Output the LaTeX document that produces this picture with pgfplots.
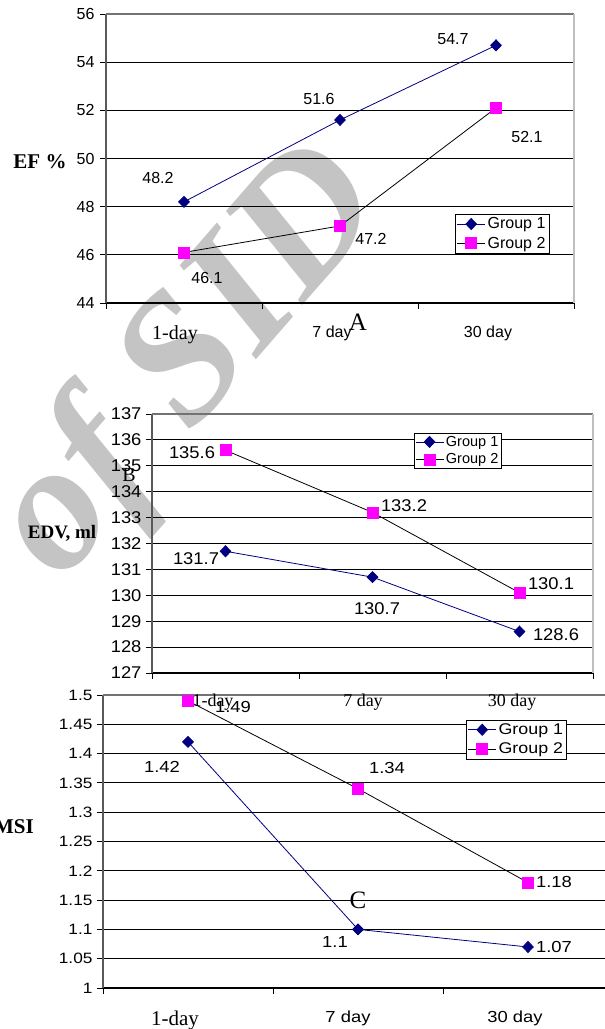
\documentclass[border=0pt]{standalone}
\usepackage{fontspec}
\setmainfont{Liberation Sans}
\newfontfamily\tnr{Liberation Serif}
\newfontfamily\sansB[FakeStretch=1.08]{Liberation Sans}
\newfontfamily\sansC[FakeStretch=1.15]{Liberation Sans}
\usepackage{pgfplots}
\pgfplotsset{compat=1.18}
\definecolor{navy}{RGB}{0,0,128}
\definecolor{mag}{RGB}{255,0,255}
\definecolor{wm}{RGB}{196,196,196}
\pgfplotsset{
  panel/.style={
    scale only axis, anchor=south west,
    xmin=-0.5, xmax=2.5,
    xtick={-0.5,0.5,1.5,2.5}, xticklabels={},
    tick align=outside, major tick length=6pt,
    axis x line*=bottom, axis y line*=left,
    x axis line style={-, black, line width=1pt},
    y axis line style={-, black!65, line width=1.3pt},
    ymajorgrids, grid style={black, line width=0.8pt},
    tick style={black, line width=0.8pt},
    clip=false,
    /pgf/number format/assume math mode=true,
    legend cell align=left,
    legend image code/.code={\draw[mark repeat=2,mark phase=2,##1] plot coordinates {(0pt,0pt) (14pt,0pt) (28pt,0pt)};},
  },
  g1/.style={navy, line width=0.8pt, mark=diamond*, mark size=5.5pt, mark options={fill=navy, draw=navy, xscale=1.3}},
  g2/.style={black, line width=0.8pt, mark=square*, mark size=5.5pt, mark options={fill=mag, draw=mag}},
}
\newcommand{\lab}[4][]{\node[#1] at (#2pt,1029pt-#3pt) {#4};}
\begin{document}
\begin{tikzpicture}
\path[use as bounding box] (0pt,0pt) rectangle (605pt,1029pt);
% watermark
\begin{scope}
\clip (0pt,0pt) rectangle (605pt,1029pt);
\node[rotate=49, text=wm, font=\fontsize{182}{182}\selectfont\tnr\itshape\bfseries] at (192pt,664pt) {of SID};
\end{scope}

% ---------- Panel A ----------
\begin{axis}[panel, at={(106pt,726pt)}, width=468pt, height=289pt,
  ymin=44, ymax=56, ytick={44,46,...,56},
  yticklabel style={font=\fontsize{16}{16}\selectfont, xshift=-2pt},
  legend style={at={(rel axis cs:0.746,0.308)}, anchor=north west, draw=black, fill=white,
    font=\fontsize{16}{16}\selectfont, inner sep=1.5pt, row sep=2.5pt}]
\addplot[g1] coordinates {(0,48.2) (1,51.6) (2,54.7)};
\addplot[g2] coordinates {(0,46.1) (1,47.2) (2,52.1)};
\legend{Group 1, Group 2}
\draw[black!55, line width=1.2pt] (rel axis cs:0,1) -- (rel axis cs:1,1);
\draw[black!25, line width=1.5pt] (rel axis cs:1,1) -- (rel axis cs:1,0);
\end{axis}
\begin{scope}[font=\fontsize{16}{16}\selectfont]
\lab{158}{178}{48.2}
\lab{319}{99}{51.6}
\lab{453}{39}{54.7}
\lab{207}{278}{46.1}
\lab{371}{239}{47.2}
\lab{527}{137}{52.1}
\lab{332}{333}{7 day}
\lab{488}{333}{30 day}
\end{scope}
\lab[font=\fontsize{20}{20}\selectfont\tnr]{175}{335}{1-day}
\lab[font=\fontsize{25}{25}\selectfont\tnr]{358}{322}{A}
\lab[font=\fontsize{21}{21}\selectfont\tnr\bfseries]{40}{162}{EF \%}

% ---------- Panel B ----------
\begin{axis}[panel, at={(152pt,356pt)}, width=441pt, height=259pt,
  ymin=127, ymax=137, ytick={127,128,...,137},
  yticklabel style={font=\fontsize{17}{17}\selectfont\sansB, xshift=-1pt},
  legend style={at={(rel axis cs:0.594,0.927)}, anchor=north west, draw=black, fill=white,
    font=\fontsize{14.5}{14.5}\selectfont, inner sep=1pt, row sep=2pt}]
\addplot[g1] coordinates {(0,131.7) (1,130.7) (2,128.6)};
\addplot[g2] coordinates {(0,135.6) (1,133.2) (2,130.1)};
\legend{Group 1, Group 2}
\draw[black!55, line width=1.2pt] (rel axis cs:0,1) -- (rel axis cs:1,1);
\draw[black!25, line width=1.5pt] (rel axis cs:1,1) -- (rel axis cs:1,0);
\end{axis}
\begin{scope}[font=\fontsize{17}{17}\selectfont\sansB]
\lab{192}{453}{135.6}
\lab{404}{506}{133.2}
\lab{551}{584}{130.1}
\lab{196}{559}{131.7}
\lab{377}{609}{130.7}
\lab{556}{635}{128.6}
\end{scope}
\lab[font=\fontsize{20}{20}\selectfont\tnr]{129}{475}{B}
\lab[font=\fontsize{19}{19}\selectfont\tnr\bfseries]{62}{533}{EDV, ml}

% ---------- Panel C ----------
\begin{scope}
\clip (0pt,0pt) rectangle (605pt,1029pt);
\begin{axis}[panel, at={(103pt,41pt)}, width=510pt, height=293pt,
  ymin=1, ymax=1.5, ytick={1,1.05,1.1,1.15,1.2,1.25,1.3,1.35,1.4,1.45,1.5},
  yticklabel style={font=\fontsize{15}{15}\selectfont\sansC, xshift=-1pt},
  legend style={at={(rel axis cs:0.712,0.915)}, anchor=north west, draw=black, fill=white,
    font=\fontsize{15.5}{15.5}\selectfont\sansC, inner sep=1.5pt, row sep=3pt}]
\addplot[g1] coordinates {(0,1.42) (1,1.1) (2,1.07)};
\addplot[g2] coordinates {(0,1.49) (1,1.34) (2,1.18)};
\legend{Group 1, Group 2}
\draw[black!55, line width=1.2pt] (rel axis cs:0,1) -- (rel axis cs:1,1);
\end{axis}
\end{scope}
\begin{scope}[font=\fontsize{16}{16}\selectfont\sansC]
\lab{233}{707}{1.49}
\lab{162}{767}{1.42}
\lab{387}{768}{1.34}
\lab{554}{882}{1.18}
\lab{335}{942}{1.1}
\lab{554}{947}{1.07}
\lab{348}{1018}{7 day}
\lab{515}{1018}{30 day}
\end{scope}
\begin{scope}[font=\fontsize{18}{18}\selectfont\tnr]
\lab{213}{702}{1-day}
\lab{363}{702}{7 day}
\lab{512}{702}{30 day}
\end{scope}
\lab[font=\fontsize{21}{21}\selectfont\tnr]{175}{1020}{1-day}
\lab[font=\fontsize{25}{25}\selectfont\tnr]{358}{900}{C}
\begin{scope}
\clip (0pt,0pt) rectangle (605pt,1029pt);
\lab[font=\fontsize{21}{21}\selectfont\tnr\bfseries]{14}{827}{MSI}
\end{scope}
\end{tikzpicture}
\end{document}
